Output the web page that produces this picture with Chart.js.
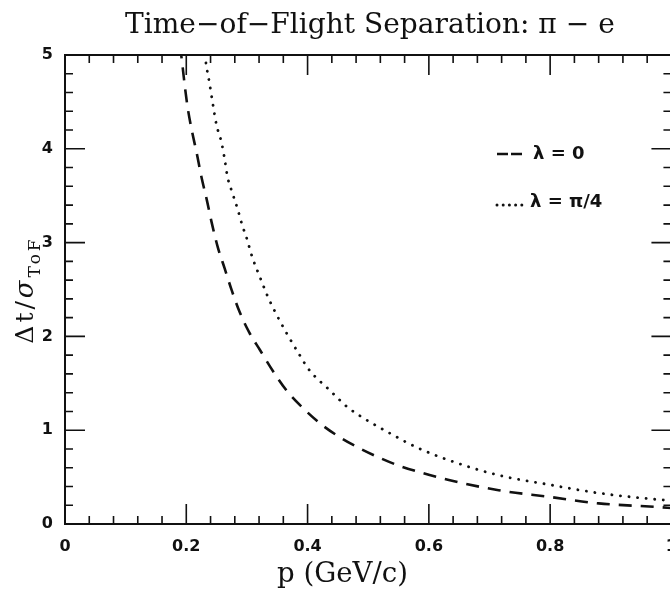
<!DOCTYPE html>
<html><head><meta charset="utf-8">
<script src="https://cdn.jsdelivr.net/npm/chart.js@4/dist/chart.umd.min.js"></script>
<style>html,body{margin:0;padding:0;background:#fff;overflow:hidden;width:670px;height:592px}canvas{display:block}</style>
</head><body>
<canvas id="c" width="690" height="592"></canvas>
<script>
// ---- data ----
const momentumLambda0 = [0.189, 0.192, 0.197, 0.202, 0.209, 0.217, 0.225, 0.234, 0.242, 0.252, 0.263, 0.275, 0.288, 0.304, 0.321, 0.345, 0.367, 0.395, 0.423, 0.452, 0.485, 0.521, 0.556, 0.633, 0.715, 0.798, 0.880, 0.979, 1.0];
const separationLambda0 = [5.10, 4.98, 4.70, 4.45, 4.20, 3.96, 3.70, 3.45, 3.21, 2.95, 2.73, 2.49, 2.26, 2.04, 1.86, 1.61, 1.41, 1.22, 1.06, 0.93, 0.81, 0.70, 0.61, 0.47, 0.36, 0.29, 0.22, 0.18, 0.17];
const momentumLambdaPi4 = [0.229, 0.233, 0.238, 0.245, 0.250, 0.258, 0.263, 0.268, 0.276, 0.285, 0.293, 0.299, 0.309, 0.321, 0.334, 0.349, 0.365, 0.387, 0.403, 0.436, 0.465, 0.497, 0.535, 0.579, 0.633, 0.715, 0.798, 0.880, 0.979, 1.0];
const separationLambdaPi4 = [5.10, 4.89, 4.71, 4.43, 4.25, 4.07, 3.90, 3.70, 3.53, 3.35, 3.17, 3.06, 2.84, 2.64, 2.43, 2.23, 2.04, 1.80, 1.64, 1.43, 1.25, 1.11, 0.97, 0.82, 0.68, 0.52, 0.42, 0.33, 0.26, 0.25];
const seriesLabels = ['λ = 0', 'λ = π/4'];
const xTickValues = [0, 0.2, 0.4, 0.6, 0.8, 1];
const yTickValues = [0, 1, 2, 3, 4, 5];
const titleText = 'Time\u2212of\u2212Flight Separation: π \u2212 e';
const xTitleText = 'p (GeV/c)';
const yTitleParts = ['Δt/', 'σ'];
const yTitleSub = 'ToF';

function pts(xs, ys) { return xs.map((x, i) => ({ x: x, y: ys[i] })); }

const INK = '#111';
const SERIF = '"DejaVu Serif", "Liberation Serif", serif';
const SANS = '"DejaVu Sans", "Liberation Sans", sans-serif';

function fitFont(ctx, text, family, weight, targetW, base) {
  ctx.font = weight + ' ' + base + 'px ' + family;
  const w = ctx.measureText(text).width;
  return base * targetW / w;
}

const decor = {
  id: 'decor',
  afterDatasetsDraw(chart) {
    const ctx = chart.ctx;
    const xs = chart.scales.x, ys = chart.scales.y;
    const a = chart.chartArea;
    ctx.save();
    ctx.strokeStyle = INK;
    ctx.lineWidth = 2;
    ctx.strokeRect(a.left, a.top, a.right - a.left, a.bottom - a.top);
    ctx.lineWidth = 1.6;
    const MAJ = 20, MIN = 8;
    for (let i = 0; i <= 25; i++) {
      const v = i * 0.04;
      const len = (i % 5 === 0) ? MAJ : MIN;
      const px = xs.getPixelForValue(v);
      ctx.beginPath();
      ctx.moveTo(px, a.bottom); ctx.lineTo(px, a.bottom - len);
      ctx.moveTo(px, a.top); ctx.lineTo(px, a.top + len);
      ctx.stroke();
    }
    for (let i = 0; i <= 25; i++) {
      const v = i * 0.2;
      const len = (i % 5 === 0) ? MAJ : MIN;
      const py = ys.getPixelForValue(v);
      ctx.beginPath();
      ctx.moveTo(a.left, py); ctx.lineTo(a.left + len, py);
      ctx.moveTo(a.right, py); ctx.lineTo(a.right - len, py);
      ctx.stroke();
    }
    ctx.restore();
  },
  afterDraw(chart) {
    const ctx = chart.ctx;
    ctx.save();
    ctx.fillStyle = INK;
    let fs = fitFont(ctx, titleText, SERIF, 'normal', 490, 24);
    ctx.font = 'normal ' + fs + 'px ' + SERIF;
    ctx.textAlign = 'left'; ctx.textBaseline = 'alphabetic';
    ctx.fillText(titleText, 125, 33);
    fs = fitFont(ctx, xTitleText, SERIF, 'normal', 131, 24);
    ctx.font = 'normal ' + fs + 'px ' + SERIF;
    ctx.fillText(xTitleText, 277, 582);
    // y title rotated
    ctx.translate(33, 290);
    ctx.rotate(-Math.PI / 2);
    ctx.letterSpacing = '3px';
    const fA = 'normal 25px ' + SERIF, fB = 'italic 26px ' + SERIF, fS = 'normal 17px ' + SERIF;
    ctx.font = fA; const w1 = ctx.measureText(yTitleParts[0]).width;
    ctx.font = fB; const w2 = ctx.measureText(yTitleParts[1]).width;
    ctx.font = fS; const w3 = ctx.measureText(yTitleSub).width;
    let x0 = -(w1 + w2 + w3) / 2;
    ctx.font = fA; ctx.fillText(yTitleParts[0], x0, 0); x0 += w1;
    ctx.font = fB; ctx.fillText(yTitleParts[1], x0, 0); x0 += w2;
    ctx.font = fS; ctx.fillText(yTitleSub, x0, 7);
    ctx.restore();

    // legend
    ctx.save();
    ctx.strokeStyle = INK; ctx.fillStyle = INK;
    const ds = chart.data.datasets;
    ctx.lineWidth = 2.4;
    ctx.setLineDash([11, 3]);
    ctx.beginPath(); ctx.moveTo(497, 154); ctx.lineTo(522, 154); ctx.stroke();
    ctx.setLineDash([]);
    for (let k = 0; k < 5; k++) {
      ctx.beginPath(); ctx.arc(497 + k * 6.2, 205, 1.5, 0, Math.PI * 2); ctx.fill();
    }
    ctx.font = 'bold 18px ' + SANS;
    ctx.textBaseline = 'middle'; ctx.textAlign = 'left';
    ctx.fillText(ds[0].label, 533, 154);
    ctx.fillText(ds[1].label, 530, 202);
    ctx.restore();
  }
};

new Chart(document.getElementById('c'), {
  type: 'scatter',
  data: {
    datasets: [
      { label: seriesLabels[0], data: pts(momentumLambda0, separationLambda0), showLine: true,
        borderColor: INK, borderWidth: 2.6, borderDash: [13, 9], pointRadius: 0, cubicInterpolationMode: 'monotone', fill: false },
      { label: seriesLabels[1], data: pts(momentumLambdaPi4, separationLambdaPi4), showLine: true,
        borderColor: INK, borderWidth: 2.8, borderDash: [0.1, 8.5], borderCapStyle: 'round', pointRadius: 0, cubicInterpolationMode: 'monotone', fill: false }
    ]
  },
  options: {
    responsive: false, animation: false, devicePixelRatio: 1,
    layout: { padding: { top: 55, right: 17, left: 0, bottom: 0 } },
    plugins: { legend: { display: false }, title: { display: false }, tooltip: { enabled: false } },
    scales: {
      x: { type: 'linear', min: 0, max: 1,
        afterFit(s) { s.height = 68; },
        afterBuildTicks(s) { s.ticks = xTickValues.map(v => ({ value: v })); },
        grid: { display: false, drawTicks: false }, border: { display: false },
        ticks: { color: INK, padding: 13, font: { family: SANS, weight: 'bold', size: 16 },
          maxRotation: 0, callback: v => (v === 0 ? '0' : v === 1 ? '1' : v.toFixed(1)) } },
      y: { type: 'linear', min: 0, max: 5,
        afterFit(s) { s.width = 65; },
        afterBuildTicks(s) { s.ticks = yTickValues.map(v => ({ value: v })); },
        grid: { display: false, drawTicks: false }, border: { display: false },
        ticks: { color: INK, padding: 12, font: { family: SANS, weight: 'bold', size: 16 } } }
    }
  },
  plugins: [decor]
});
</script>
</body></html>
